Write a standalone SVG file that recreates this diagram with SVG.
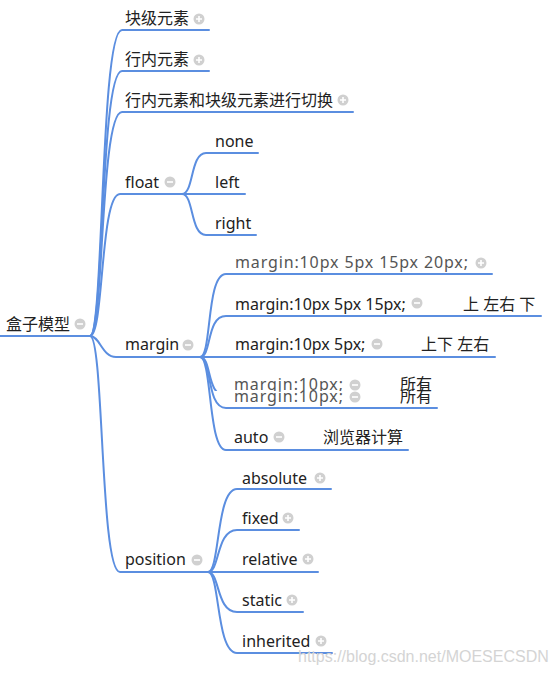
<svg xmlns="http://www.w3.org/2000/svg" width="554" height="675" viewBox="0 0 554 675">
<defs>
<style>
text{font-family:"Noto Sans","Noto Sans CJK SC",sans-serif;font-size:16px;fill:#222}
.lt{fill:#555}
.wm{font-family:"Liberation Sans",sans-serif;fill:#d4d4d4;font-size:16px}
.c{fill:none;stroke:#5b8ee0;stroke-width:2;stroke-linecap:round}
.ic{fill:#d0d0d0}
.sg{stroke:#fff;stroke-width:1.6}
</style>
<g id="plus"><circle class="ic" r="5.5"/><path class="sg" d="M-3 0H3M0 -3V3"/></g>
<g id="minus"><circle class="ic" r="5.5"/><path class="sg" d="M-3 0H3"/></g>
</defs>
<rect width="554" height="675" fill="#fff"/>
<g id="connectors">
<path class="c" d="M0 336H90"/>
<path class="c" d="M90 336C104 336 100 30 122 30H209"/>
<path class="c" d="M90 336C104 336 100 71 122 71H209"/>
<path class="c" d="M90 336C104 336 100 112 122 112H353"/>
<path class="c" d="M90 336C104 336 100 194 120 194H182"/>
<path class="c" d="M90 336C100 336 102 357 116 357H200"/>
<path class="c" d="M90 336C104 336 100 572 120 572H208"/>
<path class="c" d="M182 194C194 194 190 153 206 153H258"/>
<path class="c" d="M182 194H245"/>
<path class="c" d="M182 194C194 194 190 235 206 235H256"/>
<path class="c" d="M200 357C212 357 206 274 226 274H492"/>
<path class="c" d="M200 357C212 357 206 316 226 316H541"/>
<path class="c" d="M200 357H495"/>
<path class="c" d="M200 357C212 357 206 396 226 396H437"/>
<path class="c" d="M200 357C212 357 208 450 226 450H408"/>
<path class="c" d="M208 572C220 572 216 489 237 489H331"/>
<path class="c" d="M208 572C220 572 216 530 237 530H299"/>
<path class="c" d="M208 572H318"/>
<path class="c" d="M208 572C220 572 216 612 237 612H303"/>
<path class="c" d="M208 572C220 572 216 653 237 653H332"/>
</g>
<g id="root"><text x="6" y="330">盒子模型</text><use href="#minus" x="80" y="324"/></g>
<g id="n-block"><text x="125" y="24">块级元素</text><use href="#plus" x="199" y="19"/></g>
<g id="n-inline"><text x="125" y="65">行内元素</text><use href="#plus" x="199" y="60"/></g>
<g id="n-switch"><text x="125" y="106">行内元素和块级元素进行切换</text><use href="#plus" x="343" y="100"/></g>
<g id="n-float"><text x="125" y="188">float</text><use href="#minus" x="170" y="182"/></g>
<g id="n-none"><text x="215" y="147">none</text></g>
<g id="n-left"><text x="215" y="188">left</text></g>
<g id="n-right"><text x="215" y="229">right</text></g>
<g id="n-margin"><text x="125" y="350">margin</text><use href="#minus" x="188" y="345"/></g>
<g id="n-m4"><text class="lt" x="235" y="268" textLength="233">margin:10px 5px 15px 20px;</text><use href="#plus" x="481" y="263"/></g>
<g id="n-m3"><text x="235" y="310">margin:10px 5px 15px;</text><use href="#minus" x="417" y="303"/><text x="463" y="310">上 左右 下</text></g>
<g id="n-m2"><text x="235" y="350">margin:10px 5px;</text><use href="#minus" x="377" y="344"/><text x="421" y="350">上下 左右</text></g>
<g id="n-m1a"><text class="lt" x="234" y="389.5" textLength="109">margin:10px;</text><use href="#minus" x="355" y="385"/><text x="400" y="389.5">所有</text></g>
<g id="n-m1b"><rect x="214" y="391" width="226" height="14" fill="#fff"/><path class="c" d="M200 357C212 357 206 408 226 408H437"/><text class="lt" x="234" y="401.5" textLength="109">margin:10px;</text><use href="#minus" x="355" y="397"/><text x="400" y="401.5">所有</text></g>
<g id="n-auto"><text x="234" y="443">auto</text><use href="#minus" x="279" y="437"/><text x="323" y="443">浏览器计算</text></g>
<g id="n-position"><text x="125" y="565">position</text><use href="#minus" x="197" y="560"/></g>
<g id="n-absolute"><text x="242" y="484">absolute</text><use href="#plus" x="320" y="478"/></g>
<g id="n-fixed"><text x="242" y="524">fixed</text><use href="#plus" x="288" y="518"/></g>
<g id="n-relative"><text x="242" y="565">relative</text><use href="#plus" x="308" y="559"/></g>
<g id="n-static"><text x="242" y="606">static</text><use href="#plus" x="292" y="600"/></g>
<g id="n-inherited"><text x="242" y="647">inherited</text><use href="#plus" x="321" y="641"/></g>
<text class="wm" x="298" y="662">https://blog.csdn.net/MOESECSDN</text>
</svg>
